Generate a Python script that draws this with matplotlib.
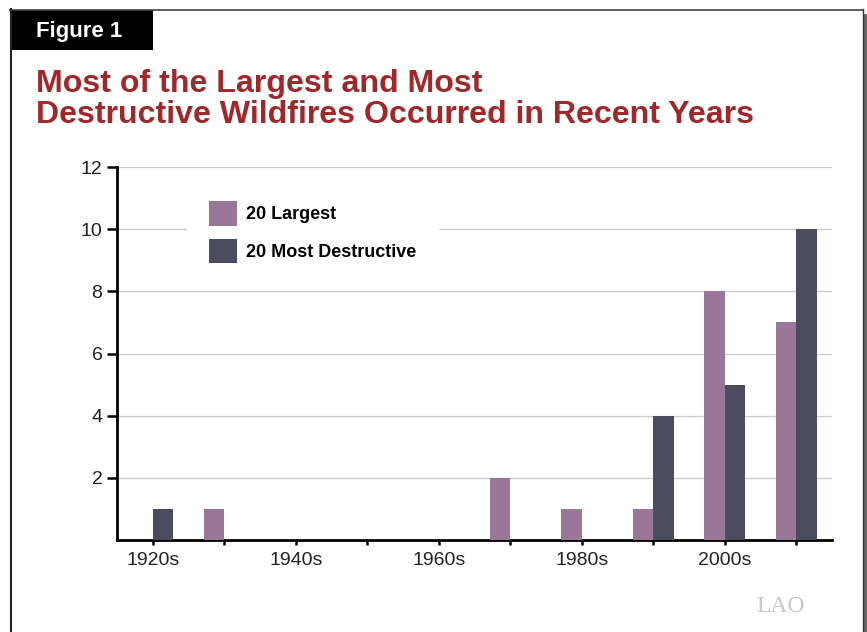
import matplotlib
matplotlib.use("Agg")
import matplotlib.pyplot as plt
from matplotlib.lines import Line2D
from matplotlib.patches import Rectangle
import numpy as np

plt.rcParams['font.family'] = ['Liberation Sans', 'DejaVu Sans']

# ---- data ----
decades = ['1920s', '1930s', '1940s', '1950s', '1960s',
           '1970s', '1980s', '1990s', '2000s', '2010s']
tick_labels = ['1920s', '', '1940s', '', '1960s', '', '1980s', '', '2000s', '']
largest = [0, 1, 0, 0, 0, 2, 1, 1, 8, 7]
destructive = [1, 0, 0, 0, 0, 0, 0, 4, 5, 10]
series_names = ['20 Largest', '20 Most Destructive']
y_ticks = [2, 4, 6, 8, 10, 12]

title_lines = ['Most of the Largest and Most',
               'Destructive Wildfires Occurred in Recent Years']

# ---- style ----
W, H = 867, 632
c_largest = '#9A7799'
c_destr = '#4B4C60'
c_title = '#A0282A'

fig = plt.figure(figsize=(W / 100, H / 100), dpi=100)
fig.patch.set_facecolor('white')


def fx(x):
    return x / W


def fy(y):
    return 1 - y / H


# frame
fig.add_artist(Line2D([fx(10), fx(863)], [fy(9.5), fy(9.5)], color='#444444', lw=1.2,
                      transform=fig.transFigure))
fig.add_artist(Line2D([fx(11), fx(11)], [fy(9), fy(632)], color='#222222', lw=1.5,
                      transform=fig.transFigure))
fig.add_artist(Line2D([fx(863), fx(863)], [fy(9), fy(632)], color='#333333', lw=1.0,
                      transform=fig.transFigure))
fig.add_artist(Rectangle((fx(864), 0), fx(4), fy(14), color='#6a6a6a',
                         transform=fig.transFigure, lw=0))
# Figure 1 box
fig.add_artist(Rectangle((fx(10), fy(50)), fx(143), fy(10) - fy(50), color='black',
                         transform=fig.transFigure, lw=0))
fig.text(fx(36), fy(37), 'Figure 1', color='white', fontsize=16, fontweight='bold',
         va='baseline', ha='left')

# title
fig.text(fx(36), fy(92), title_lines[0], color=c_title, fontsize=23.1,
         fontweight='bold', va='baseline', ha='left')
fig.text(fx(36), fy(123), title_lines[1], color=c_title, fontsize=23.1,
         fontweight='bold', va='baseline', ha='left')

# axes
ax = fig.add_axes([fx(117), fy(540), fx(832) - fx(117), fy(167) - fy(540)])
x = np.arange(len(decades))
w = 0.29
ax.bar(x - w / 2, largest, width=w, color=c_largest, label=series_names[0], zorder=3)
ax.bar(x + w / 2, destructive, width=w, color=c_destr, label=series_names[1], zorder=3)

ax.set_xlim(-0.5, 9.5)
ax.set_ylim(0, 12)
ax.set_yticks(y_ticks)
ax.set_xticks(x)
ax.set_xticklabels(tick_labels)
ax.set_axisbelow(True)
ax.yaxis.grid(True, color='#cccccc', lw=1.0)
for s in ['top', 'right']:
    ax.spines[s].set_visible(False)
for s in ['left', 'bottom']:
    ax.spines[s].set_linewidth(2.0)
    ax.spines[s].set_color('black')
ax.tick_params(axis='y', length=7, width=1.8, pad=3.5, labelsize=14, labelcolor='#222222')
ax.tick_params(axis='x', length=3.5, width=1.8, pad=5, labelsize=14, labelcolor='#222222')

leg = ax.legend(loc='upper left', bbox_to_anchor=(fx(187), fy(179.5)),
                bbox_transform=fig.transFigure, frameon=True, fancybox=False,
                facecolor='white', edgecolor='white', framealpha=1,
                prop={'weight': 'bold', 'size': 13, 'family': 'Liberation Sans'},
                handlelength=1.55, handleheight=1.73, handletextpad=0.5,
                labelspacing=0.7, borderpad=1.2, borderaxespad=0)
leg.set_zorder(5)

# LAO mark
fig.text(fx(756), fy(612), 'LAO', color='#c8c8c8', fontsize=17,
         family=['Liberation Serif', 'DejaVu Serif'], va='baseline', ha='left')

fig.savefig('out.png', dpi=100, facecolor='white')
